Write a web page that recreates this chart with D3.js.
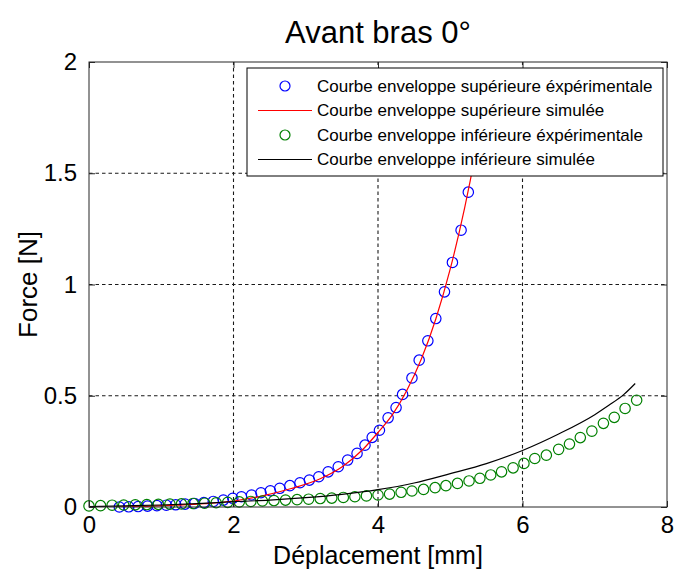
<!DOCTYPE html>
<html><head><meta charset="utf-8">
<script src="https://cdn.jsdelivr.net/npm/d3@7"></script>
<style>
html,body{margin:0;padding:0;background:#fff;}
svg{display:block;font-family:"Liberation Sans",Arial,sans-serif;}
</style></head>
<body><svg id="c" width="676" height="572"></svg>
<script>
const title = "Avant bras 0°";
const xLabel = "Déplacement [mm]";
const yLabel = "Force [N]";
const xTicks = [0, 2, 4, 6, 8];
const yTicks = [0, 0.5, 1, 1.5, 2];
const yTickLabels = ["0", "0.5", "1", "1.5", "2"];
const legendLabels = [
  "Courbe enveloppe supérieure éxpérimentale",
  "Courbe enveloppe supérieure simulée",
  "Courbe enveloppe inférieure éxpérimentale",
  "Courbe enveloppe inférieure simulée"
];

// upper envelope, experimental (blue circles)
const upperExpX = [0.42,0.55,0.68,0.81,0.94,1.07,1.20,1.33,1.46,1.59,1.72,1.86,1.99,2.11,2.25,2.38,2.51,2.64,2.78,2.92,3.05,3.18,3.31,3.45,3.58,3.71,3.82,3.92,4.02,4.14,4.25,4.34,4.47,4.57,4.69,4.80,4.92,5.03,5.15,5.25];
const upperExpY = [0.000,0.001,0.002,0.004,0.006,0.008,0.010,0.013,0.016,0.020,0.025,0.031,0.039,0.046,0.054,0.064,0.073,0.084,0.096,0.109,0.121,0.136,0.158,0.181,0.211,0.241,0.278,0.313,0.345,0.401,0.447,0.506,0.580,0.660,0.747,0.847,0.967,1.099,1.244,1.415];

// upper envelope, simulated (red line)
const upperSimX = [0.35,0.8,1.2,1.6,2.0,2.4,2.8,3.2,3.5,3.8,4.0,4.2,4.4,4.6,4.8,5.0,5.2,5.35,5.5];
const upperSimY = [0.0,0.003,0.008,0.015,0.027,0.050,0.083,0.127,0.180,0.262,0.335,0.415,0.525,0.665,0.845,1.07,1.345,1.59,1.87];

// lower envelope, experimental (green circles)
const lowerExpX = [0.00,0.16,0.32,0.48,0.64,0.80,0.96,1.12,1.28,1.44,1.60,1.76,1.92,2.08,2.24,2.40,2.56,2.72,2.88,3.04,3.20,3.36,3.52,3.68,3.84,4.00,4.16,4.32,4.47,4.63,4.79,4.94,5.10,5.26,5.41,5.56,5.71,5.87,6.02,6.17,6.33,6.50,6.65,6.80,6.96,7.12,7.27,7.42,7.58];
const lowerExpY = [0.005,0.006,0.008,0.009,0.010,0.011,0.012,0.013,0.014,0.016,0.017,0.019,0.021,0.023,0.025,0.027,0.029,0.031,0.033,0.035,0.038,0.040,0.043,0.046,0.050,0.054,0.058,0.066,0.072,0.079,0.087,0.096,0.106,0.117,0.129,0.144,0.158,0.176,0.196,0.218,0.233,0.259,0.283,0.312,0.341,0.376,0.403,0.443,0.480];

// lower envelope, simulated (black line)
const lowerSimX = [0,0.5,1.0,1.5,2.0,2.5,3.0,3.5,4.0,4.5,5.0,5.5,6.0,6.5,7.0,7.2,7.4,7.56];
const lowerSimY = [0.002,0.005,0.009,0.015,0.024,0.031,0.042,0.057,0.078,0.108,0.150,0.195,0.254,0.328,0.415,0.458,0.505,0.555];

const W = 676, H = 572;
const m = {left: 89, right: 9, top: 62, bottom: 65};
const svg = d3.select("#c");
const x = d3.scaleLinear().domain([0, 8]).range([m.left, W - m.right]);
const y = d3.scaleLinear().domain([0, 2]).range([H - m.bottom, m.top]);
const axisColor = "#262626";

svg.append("defs").append("clipPath").attr("id","clip")
  .append("rect").attr("x", x(0)).attr("y", y(2)).attr("width", x(8)-x(0)).attr("height", y(0)-y(2));

// grid
const grid = svg.append("g");
grid.selectAll(".gx").data(xTicks.slice(1,-1)).enter().append("line")
  .attr("x1", d=>x(d)).attr("x2", d=>x(d)).attr("y1", y(0)).attr("y2", y(2))
  .attr("stroke", "#1a1a1a").attr("stroke-width",1.1).attr("stroke-dasharray","3.5,3");
grid.selectAll(".gy").data(yTicks.slice(1,-1)).enter().append("line")
  .attr("y1", d=>y(d)).attr("y2", d=>y(d)).attr("x1", x(0)).attr("x2", x(8))
  .attr("stroke", "#1a1a1a").attr("stroke-width",1.1).attr("stroke-dasharray","3.5,3");

const zip = (xs, ys) => xs.map((v,i)=>[v, ys[i]]);
const line = d3.line().x(d=>x(d[0])).y(d=>y(d[1])).curve(d3.curveMonotoneX);

// blue circles
svg.append("g").selectAll("circle").data(zip(upperExpX, upperExpY)).enter().append("circle")
  .attr("cx", d=>x(d[0])).attr("cy", d=>y(d[1])).attr("r", 5.2)
  .attr("fill","none").attr("stroke","#0000ff").attr("stroke-width",1.2);
// red line
svg.append("path").datum(zip(upperSimX, upperSimY)).attr("d", line)
  .attr("clip-path","url(#clip)")
  .attr("fill","none").attr("stroke","#ff0000").attr("stroke-width",1.2);
// green circles
svg.append("g").selectAll("circle").data(zip(lowerExpX, lowerExpY)).enter().append("circle")
  .attr("cx", d=>x(d[0])).attr("cy", d=>y(d[1])).attr("r", 5.2)
  .attr("fill","none").attr("stroke","#008000").attr("stroke-width",1.2);
// black line
svg.append("path").datum(zip(lowerSimX, lowerSimY)).attr("d", line)
  .attr("clip-path","url(#clip)")
  .attr("fill","none").attr("stroke","#000").attr("stroke-width",1.2);

// axes box
svg.append("rect").attr("x", x(0)).attr("y", y(2)).attr("width", x(8)-x(0)).attr("height", y(0)-y(2))
  .attr("fill","none").attr("stroke", axisColor).attr("stroke-width",1);

const tickLen = 6;
const xb = d3.axisBottom(x).tickValues(xTicks).tickSize(-tickLen).tickPadding(9).tickFormat(d3.format("d"));
const xt = d3.axisTop(x).tickValues(xTicks).tickSize(-tickLen).tickFormat("");
const yl = d3.axisLeft(y).tickValues(yTicks).tickSize(-tickLen).tickPadding(12).tickFormat((d,i)=>yTickLabels[i]);
const yr = d3.axisRight(y).tickValues(yTicks).tickSize(-tickLen).tickFormat("");

function style(g){
  g.select(".domain").remove();
  g.selectAll(".tick line").attr("stroke", axisColor);
  g.selectAll("text").attr("fill","#000").style("font-size","24px").style("font-family","'Liberation Sans',Arial,sans-serif");
}
svg.append("g").attr("transform",`translate(0,${y(0)})`).call(xb).call(style);
svg.append("g").attr("transform",`translate(0,${y(2)})`).call(xt).call(style);
svg.append("g").attr("transform",`translate(${x(0)},0)`).call(yl).call(style);
svg.append("g").attr("transform",`translate(${x(8)},0)`).call(yr).call(style);

// labels
svg.append("text").attr("x", (x(0)+x(8))/2).attr("y", 43).attr("text-anchor","middle")
  .style("font-size","31px").text(title);
svg.append("text").attr("x", (x(0)+x(8))/2).attr("y", 564).attr("text-anchor","middle")
  .style("font-size","25px").text(xLabel);
svg.append("text").attr("transform",`translate(37,${(y(0)+y(2))/2}) rotate(-90)`).attr("text-anchor","middle")
  .style("font-size","26px").text(yLabel);

// legend
const lg = svg.append("g").attr("transform","translate(247,68)");
lg.append("rect").attr("width",416).attr("height",108).attr("fill","#fff").attr("stroke","#000").attr("stroke-width",1);
const rowY = i => 18 + i*24.5;
const styles = [
  {type:"circle", color:"#0000ff"},
  {type:"line", color:"#ff0000"},
  {type:"circle", color:"#008000"},
  {type:"line", color:"#000"}
];
legendLabels.forEach((lab,i)=>{
  const s = styles[i];
  if (s.type==="circle") {
    lg.append("circle").attr("cx",38).attr("cy",rowY(i)).attr("r",5).attr("fill","none").attr("stroke",s.color).attr("stroke-width",1.2);
  } else {
    lg.append("line").attr("x1",11).attr("x2",65).attr("y1",rowY(i)).attr("y2",rowY(i)).attr("stroke",s.color).attr("stroke-width",1.2);
  }
  lg.append("text").attr("x",70).attr("y",rowY(i)).attr("dy","0.35em").style("font-size","17px").text(lab);
});
</script></body></html>
